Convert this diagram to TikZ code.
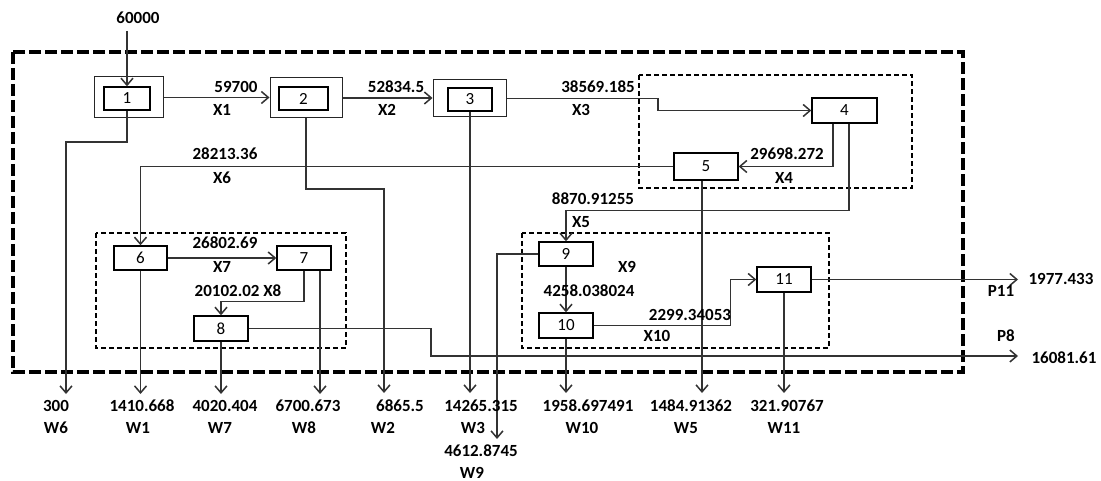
\documentclass[tikz,border=0pt]{standalone}
\usepackage{fontspec}
\setmainfont{Carlito}
\usetikzlibrary{arrows.meta}
\begin{document}
\begin{tikzpicture}[x=1pt,y=-1pt,
  box/.style={draw=black,line width=1.4pt,inner sep=0pt,fill=white,font=\fontsize{17}{17}\selectfont},
  obox/.style={draw=black!85,line width=1pt,inner sep=0pt},
  lbl/.style={inner sep=0pt,font=\fontsize{17}{17}\selectfont\bfseries},
  con/.style={draw=black!80,line width=1.5pt,-{Straight Barb[length=7pt,width=12pt,line width=1.5pt]}},
  grp/.style={draw=black,line width=2.2pt,dash pattern=on 5pt off 3pt},
  frame/.style={draw=black,line width=4pt,dash pattern=on 12pt off 4pt}]
\useasboundingbox (0,0) rectangle (1101,481);

% frames
\draw[frame] (13,52) rectangle (963,372);
\draw[grp] (639,75) rectangle (912,188);
\draw[grp] (96,233) rectangle (346,348);
\draw[grp] (522,233) rectangle (829,348);

% boxes
\node[obox,minimum width=69pt,minimum height=41pt] (o1) at (128.5,97.5) {};
\node[box,minimum width=46pt,minimum height=23pt] (b1) at (127,98.5) {1};
\node[obox,minimum width=72pt,minimum height=40pt] (o2) at (306,98) {};
\node[box,minimum width=49pt,minimum height=23pt] (b2) at (303.5,98.5) {2};
\node[obox,minimum width=73pt,minimum height=37pt] (o3) at (469.5,98.5) {};
\node[box,minimum width=44pt,minimum height=23pt] (b3) at (470,99.5) {3};
\node[box,minimum width=65pt,minimum height=25pt] (b4) at (844.5,110.5) {4};
\node[box,minimum width=64pt,minimum height=27pt] (b5) at (706,166.5) {5};
\node[box,minimum width=53pt,minimum height=24pt] (b6) at (140.5,258) {6};
\node[box,minimum width=54pt,minimum height=24pt] (b7) at (304,258) {7};
\node[box,minimum width=54pt,minimum height=25pt] (b8) at (221,328.5) {8};
\node[box,minimum width=54pt,minimum height=24pt] (b9) at (566,254) {9};
\node[box,minimum width=54pt,minimum height=25pt] (b10) at (566,325.5) {10};
\node[box,minimum width=54pt,minimum height=25pt] (b11) at (784,279.5) {11};

% coordinates
\coordinate (s0) at (127,31);
\coordinate (c3) at (658,98);
\coordinate (p11) at (1018,279.5);
\coordinate (p8k) at (431,356);
\coordinate (p8) at (1018,356);
\coordinate (k6) at (66,142);
\coordinate (w6) at (66,394);
\coordinate (w1) at (140.5,394);
\coordinate (w7) at (221,394);
\coordinate (w8) at (320,394);
\coordinate (k2) at (384,189);
\coordinate (w2) at (384,393);
\coordinate (w3) at (470,393);
\coordinate (w9) at (497,439);
\coordinate (w10) at (566,393);
\coordinate (w5) at (702,393);
\coordinate (w11) at (784,393);

% main connectors
\draw[con] (s0) -- (b1.north);
\draw[con] (o1.east) -- (o1.east -| o2.west);
\draw[con] (o2.east) -- (o2.east -| o3.west);
\draw[con] (o3.east) -- (o3.east -| c3) |- (b4.west);
\draw[con] ([xshift=-11.5pt]b4.south) |- (b5.east);
\draw[con] ([xshift=4.5pt]b4.south) |- ([yshift=31pt]b9.north) -- (b9.north);
\draw[con] (b5.west) -| (b6.north);
\draw[con] (b6.east) -- (b7.west);
\draw[con] (b7.south) |- ([yshift=14pt]b8.north) -- (b8.north);
\draw[con] (b9.south) -- (b10.north);
\draw[con] (b10.east) -- ++(137,0) |- (b11.west);
\draw[con] (b11.east) -- (p11);
\draw[con] (b8.east) -| (p8k) -- (p8);

% waste streams
\draw[con] (b1.south) |- (k6) -- (w6);
\draw[con] (b6.south) -- (w1);
\draw[con] (b8.south) -- (w7);
\draw[con] (b7.south -| w8) -- (w8);
\draw[con] (o2.south) |- (k2) -- (w2);
\draw[con] (b3.south) -- (w3);
\draw[con] (b9.west) -| (w9);
\draw[con] (b10.south) -- (w10);
\draw[con] (b5.south -| w5) -- (w5);
\draw[con] (b11.south) -- (w11);

% labels
\node[lbl] (t0) at (138,18) {60000};
\node[lbl] (t1a) at (236,87) {59700};
\node[lbl] (t1b) at (222,110) {X1};
\node[lbl] (t2a) at (396,87) {52834.5};
\node[lbl] (t2b) at (387,110) {X2};
\node[lbl] (t3a) at (598,87) {38569.185};
\node[lbl] (t3b) at (581,110) {X3};
\node[lbl] (t4a) at (787,154) {29698.272};
\node[lbl] (t4b) at (784,178) {X4};
\node[lbl] (t6a) at (225,154) {28213.36};
\node[lbl] (t6b) at (222,178) {X6};
\node[lbl] (t5a) at (593,199) {8870.91255};
\node[lbl] (t5b) at (581,222) {X5};
\node[lbl] (t7a) at (225,243) {26802.69};
\node[lbl] (t7b) at (222,267) {X7};
\node[lbl] (t8) at (238,291) {20102.02 X8};
\node[lbl] (t9) at (627,267) {X9};
\node[lbl] (t9a) at (589,291) {4258.038024};
\node[lbl] (t10a) at (690,315) {2299.34053};
\node[lbl] (t10b) at (657,336) {X10};
\node[lbl] (tp11a) at (1061,279) {1977.433};
\node[lbl] (tp11b) at (1001,291) {P11};
\node[lbl] (tp8b) at (1006,336) {P8};
\node[lbl] (tp8a) at (1064,358) {16081.61};

\node[lbl] (v6) at (56,406) {300};
\node[lbl] (n6) at (56,428) {W6};
\node[lbl] (v1) at (142,406) {1410.668};
\node[lbl] (n1) at (138,428) {W1};
\node[lbl] (v7) at (225,406) {4020.404};
\node[lbl] (n7) at (220,428) {W7};
\node[lbl] (v8) at (308,406) {6700.673};
\node[lbl] (n8) at (304,428) {W8};
\node[lbl] (v2) at (400,406) {6865.5};
\node[lbl] (n2) at (383,428) {W2};
\node[lbl] (v3) at (481,406) {14265.315};
\node[lbl] (n3) at (473,428) {W3};
\node[lbl] (v9) at (481,451) {4612.8745};
\node[lbl] (n9) at (472,473) {W9};
\node[lbl] (v10) at (588,406) {1958.697491};
\node[lbl] (n10) at (582,428) {W10};
\node[lbl] (v5) at (691,406) {1484.91362};
\node[lbl] (n5) at (686,428) {W5};
\node[lbl] (v11) at (787,406) {321.90767};
\node[lbl] (n11) at (784,428) {W11};
\end{tikzpicture}
\end{document}
